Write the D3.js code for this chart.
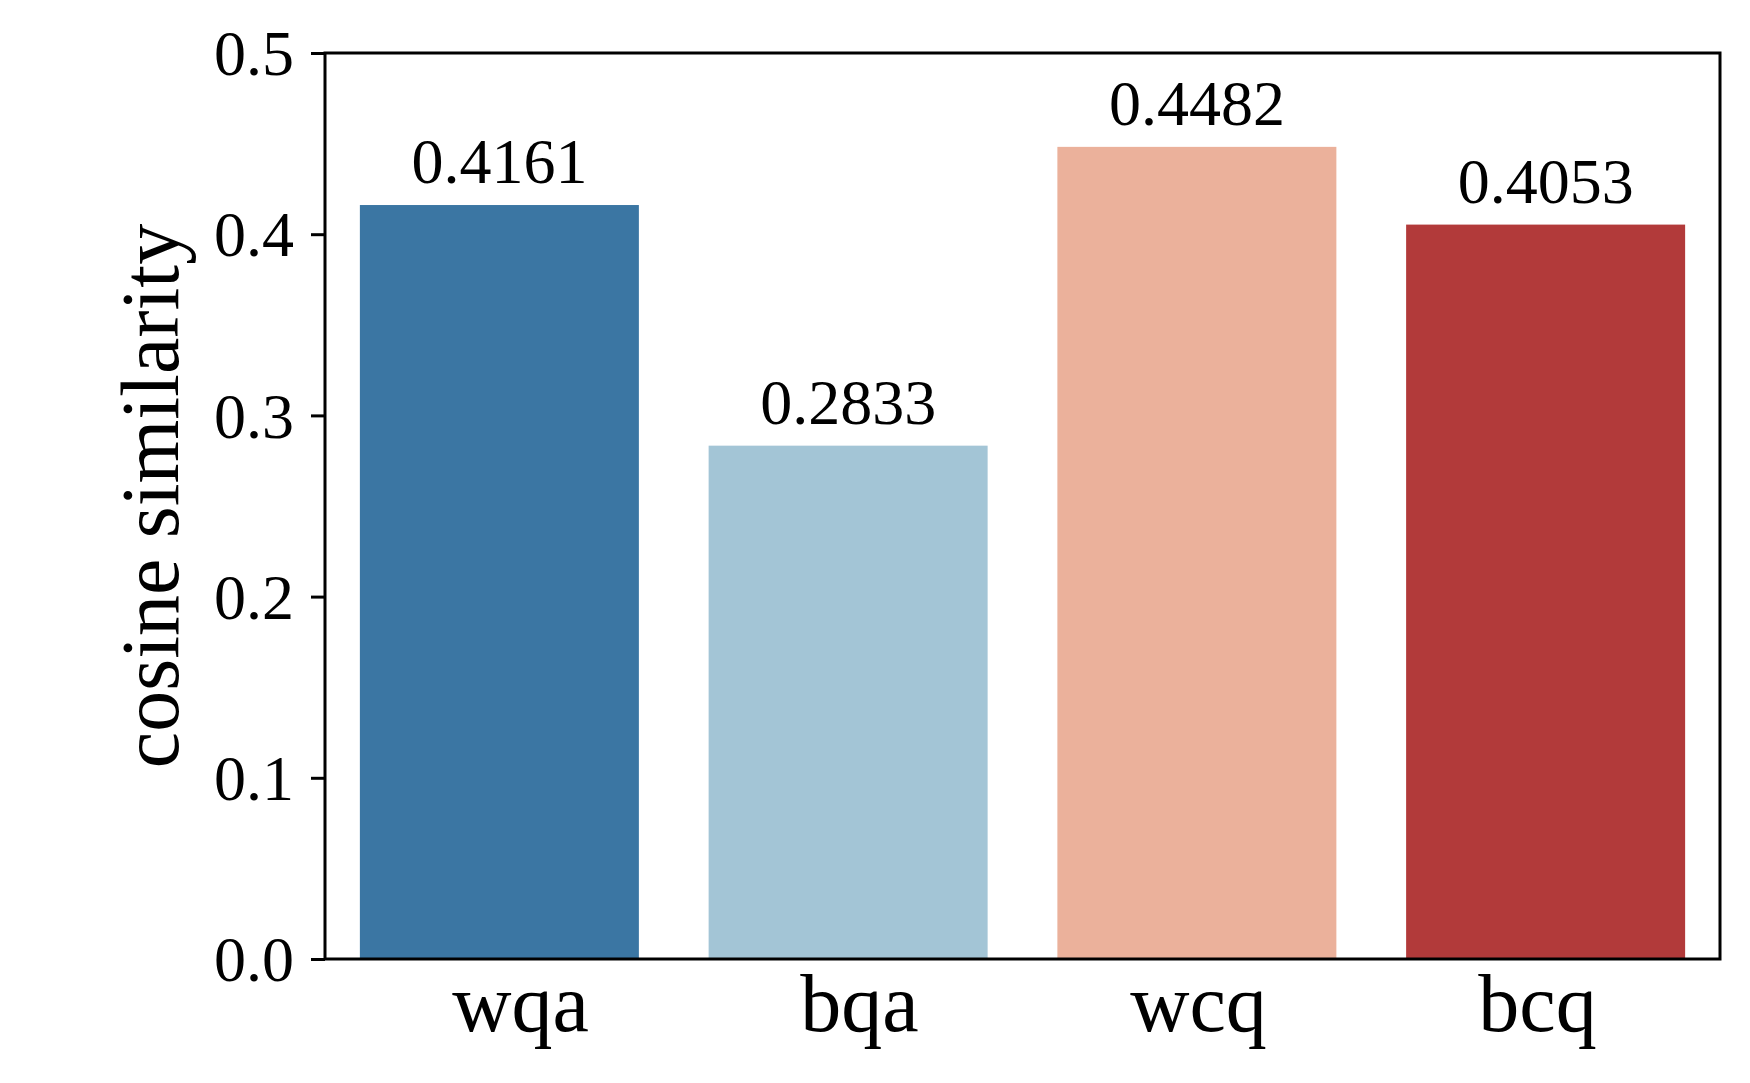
<!DOCTYPE html>
<html>
<head>
<meta charset="utf-8">
<script src="https://cdn.jsdelivr.net/npm/d3@7"></script>
<style>
  body { margin: 0; background: #fff; }
  text { font-family: "Liberation Serif", "Times New Roman", serif; fill: #000; }
</style>
</head>
<body>
<div id="wrapper"></div>
<script>
var categories = ['wqa', 'bqa', 'wcq', 'bcq'];
var values = [0.4161, 0.2833, 0.4482, 0.4053];
var colors = ['#3b76a3', '#a3c5d6', '#ebb19b', '#b23a3a'];
var yTicks = [0.0, 0.1, 0.2, 0.3, 0.4, 0.5];
var yLabel = 'cosine similarity';

var plotLeft = 325, plotRight = 1720, plotTop = 53, plotBottom = 959;

var canvas = d3.select('#wrapper')
               .append('svg')
               .attr('width', 1750)
               .attr('height', 1083);

var xscale = d3.scaleBand()
               .domain(categories)
               .range([plotLeft, plotRight])
               .paddingInner(0.2)
               .paddingOuter(0.1);

// the tick labels in the original sit on a slightly narrower spacing than the bars
var labelScale = d3.scalePoint()
               .domain(categories)
               .range([520, 1537]);

var yscale = d3.scaleLinear()
               .domain([0, 0.5])
               .range([plotBottom, plotTop]);

// bars
canvas.append('g')
      .attr('id', 'bars')
      .selectAll('rect')
      .data(values)
      .enter()
      .append('rect')
      .attr('x', function(d, i){ return xscale(categories[i]); })
      .attr('y', function(d){ return yscale(d); })
      .attr('width', xscale.bandwidth())
      .attr('height', function(d){ return yscale(0) - yscale(d); })
      .style('fill', function(d, i){ return colors[i]; });

// value labels
canvas.append('g')
      .attr('id', 'vals')
      .selectAll('text')
      .data(values)
      .enter()
      .append('text')
      .attr('x', function(d, i){ return xscale(categories[i]) + xscale.bandwidth() / 2; })
      .attr('y', function(d){ return yscale(d) - 22; })
      .attr('text-anchor', 'middle')
      .style('font-size', '64px')
      .text(function(d){ return d.toFixed(4); });

// y axis
var yAxis = d3.axisLeft(yscale)
              .tickValues(yTicks)
              .tickSize(14)
              .tickPadding(17)
              .tickFormat(d3.format('.1f'));

var y_xis = canvas.append('g')
                  .attr('transform', 'translate(' + plotLeft + ',0)')
                  .call(yAxis);
y_xis.select('.domain').remove();
y_xis.selectAll('line').style('stroke', '#000').style('stroke-width', '3px');
y_xis.selectAll('text')
     .style('font-size', '64px')
     .style('font-family', '"Liberation Serif", serif')
     .attr('dy', '0.34em');

// x axis (labels only)
var xAxis = d3.axisBottom(labelScale).tickSize(0).tickPadding(0);
var x_xis = canvas.append('g')
                  .attr('transform', 'translate(0,' + plotBottom + ')')
                  .call(xAxis);
x_xis.select('.domain').remove();
x_xis.selectAll('text')
     .attr('y', 72)
     .attr('dy', 0)
     .style('font-size', '82px')
     .style('font-family', '"Liberation Serif", serif');

// frame
canvas.append('rect')
      .attr('x', plotLeft)
      .attr('y', plotTop)
      .attr('width', plotRight - plotLeft)
      .attr('height', plotBottom - plotTop)
      .style('fill', 'none')
      .style('stroke', '#000')
      .style('stroke-width', '3px');

// y label
canvas.append('text')
      .attr('transform', 'translate(178,' + ((plotTop + plotBottom) / 2 - 10) + ') rotate(-90)')
      .attr('text-anchor', 'middle')
      .style('font-size', '82px')
      .text(yLabel);
</script>
</body>
</html>
